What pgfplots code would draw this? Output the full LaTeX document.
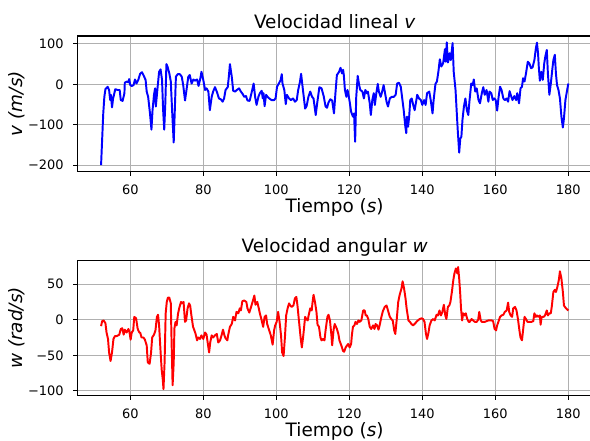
\documentclass[border=0pt]{standalone}
\usepackage{fontspec}
\setmainfont{DejaVu Sans}
\usepackage{pgfplots}
\pgfplotsset{compat=1.18}
\definecolor{gridgray}{HTML}{B0B0B0}
\pgfplotsset{mystyle/.style={
  scale only axis, width=514bp,
  xmin=45.6, xmax=186.4,
  xtick={60,80,100,120,140,160,180},
  xticklabels={60,80,100,120,140,160,180},
  tick align=outside, xtick pos=bottom, ytick pos=left,
  major tick length=4.5bp,
  every tick/.style={black, line width=1.04bp},
  grid=major, major grid style={gridgray, line width=1.04bp},
  axis line style={line width=1.04bp},
  tick label style={font=\fontsize{13}{15}\selectfont},
  label style={font=\fontsize{18.5}{22}\selectfont},
  xticklabel style={anchor=base, yshift=-18.7bp, inner sep=0pt},
  yticklabel style={anchor=east, xshift=-9.4bp, inner sep=0pt},
  every axis title shift=0pt,
  title style={font=\fontsize{18.5}{22}\selectfont, anchor=base},
  ylabel style={at={(axis description cs:-0.1187,0.5)}, anchor=center},
  xlabel={Tiempo (\textit{s})},
}}
\begin{document}
\begin{tikzpicture}
\path[use as bounding box] (0,0) rectangle (590bp,-441bp);
\begin{axis}[mystyle,
  at={(77.7bp,-171.3bp)}, anchor=south west, height=135.3bp,
  ymin=-215.3, ymax=119.6,
  ytick={-200,-100,0,100}, yticklabels={−200,−100,0,100},
  title={Velocidad lineal \textit{v}},
  title style={at={(axis description cs:0.5,1.0591)}},
  xlabel style={at={(axis description cs:0.5,-0.303)}, anchor=base},
  ylabel={\textit{v} \textit{(m/s)}},
]
\addplot[blue, line width=1.95bp, line join=round] coordinates {
(52.0,-200) (52.6,-72) (52.9,-31) (53.2,-12) (53.8,-6) (54.2,-14) (54.5,-39) (54.7,-26) (55.0,-57) (55.3,-35)
(55.9,-12) (56.5,-14) (57.1,-14) (57.4,-39) (57.9,-41) (58.4,-22) (58.5,4) (59.1,7) (59.5,5) (59.7,13)
(60.0,-2) (60.4,-4) (60.9,-2) (61.3,12) (61.7,2) (62.2,11) (62.7,26) (63.2,30) (63.7,21) (64.2,11)
(64.5,-18) (64.9,-31) (65.4,-72) (65.8,-112) (66.1,-64) (66.5,-26) (66.8,-10) (67.0,-55) (67.5,-6) (67.9,31)
(68.3,37) (68.7,11) (69.0,-64) (69.3,-112) (69.6,-47) (69.9,50) (70.2,44) (70.7,27) (71.1,7) (71.5,-72)
(71.9,-144) (72.2,-64) (72.5,19) (73.0,25) (73.6,25) (74.1,19) (74.5,-2) (75.0,-40) (75.4,-14) (75.9,19)
(76.3,23) (76.8,2) (77.3,12) (77.7,9) (78.3,12) (78.7,-4) (79.2,15) (79.5,31) (80.0,11) (80.5,-14)
(80.9,-10) (81.4,-18) (81.8,-64) (82.3,-31) (82.7,-18) (83.2,-7) (83.7,-18) (84.3,-35) (84.8,-37) (85.3,-43)
(85.7,-35) (86.1,-14) (86.7,-7) (87.0,19) (87.3,50) (87.8,19) (88.2,-16) (88.7,-18) (89.2,-14) (89.8,-10)
(90.3,-18) (90.8,-24) (91.2,-31) (91.7,-29) (92.1,-40) (92.7,-41) (93.2,-22) (93.8,2) (94.2,-31) (94.6,-51)
(95.1,-31) (95.5,-22) (96.0,-16) (96.3,-35) (96.5,-22) (96.8,-54) (97.2,-26) (97.6,-31) (98.1,-35) (98.7,-39)
(99.4,-39) (99.8,-35) (100.2,-6) (100.7,2) (101.2,11) (101.5,25) (101.7,2) (102.2,-14) (102.6,-49) (102.9,-26)
(103.5,-35) (104.0,-39) (104.6,-35) (105.1,-43) (105.6,-39) (106.0,-14) (106.5,7) (106.8,26) (107.2,-6) (107.9,-60)
(108.3,-54) (108.8,-31) (109.3,-18) (109.8,-31) (110.2,-35) (110.8,-76) (111.2,-47) (111.8,-7) (112.4,-10) (113.0,-30)
(113.5,-55) (113.9,-58) (114.3,-45) (114.8,-37) (115.3,-40) (115.8,-72) (116.2,-22) (116.6,23) (117.2,31) (117.6,41)
(118.0,27) (118.3,36) (118.5,23) (118.8,-14) (119.2,-31) (119.5,-14) (119.7,-22) (120.1,-43) (120.5,-68) (121.0,-80)
(121.3,-72) (121.6,-142) (121.9,-31) (122.3,21) (122.7,-2) (123.0,-14) (123.6,-18) (124.0,-35) (124.4,-14) (124.8,-22)
(125.1,-18) (125.6,-47) (125.9,-76) (126.3,-39) (126.7,-22) (127.0,-51) (127.4,-22) (127.8,1) (128.1,-18) (128.6,-31)
(129.0,-18) (129.4,-2) (129.8,-22) (130.2,-43) (130.6,-55) (131.1,-35) (131.6,-31) (132.2,-31) (132.7,-26) (133.1,2)
(133.6,4) (134.1,-6) (134.5,-35) (134.9,-64) (135.3,-101) (135.6,-121) (135.8,-80) (136.1,-105) (136.4,-80) (136.7,-39)
(137.1,-35) (137.5,-51) (137.9,-64) (138.3,-43) (138.6,-26) (139.1,-35) (139.6,-39) (140.0,-51) (140.5,-39) (140.9,-51)
(141.3,-22) (141.9,-18) (142.3,-39) (142.8,-72) (143.1,-39) (143.6,1) (144.0,7) (144.4,31) (144.8,62) (145.2,44)
(145.7,52) (146.2,87) (146.4,56) (146.7,104) (147.0,54) (147.3,64) (147.5,77) (147.8,60) (148.3,102) (148.6,31)
(149.1,-14) (149.4,-64) (149.7,-113) (150.1,-169) (150.4,-134) (150.7,-130) (151.0,-88) (151.4,-55) (151.8,-35) (152.2,-64)
(152.6,-76) (152.9,-43) (153.4,2) (153.8,-2) (154.1,12) (154.5,-18) (154.9,-10) (155.4,-39) (155.8,-47) (156.3,-22)
(156.7,-7) (157.1,-26) (157.6,-14) (158.1,-43) (158.4,-18) (158.9,-22) (159.3,-39) (159.7,-35) (160.1,-39) (160.5,-65)
(160.9,-31) (161.3,-6) (161.7,-14) (162.2,-35) (162.6,-39) (163.1,-35) (163.5,-43) (163.9,-17) (164.4,-31) (164.7,-39)
(165.2,-29) (165.7,-39) (166.0,-22) (166.5,-47) (166.9,-10) (167.3,-6) (167.6,15) (168.0,7) (168.4,27) (168.9,56)
(169.3,52) (169.8,40) (170.2,42) (170.7,60) (171.1,89) (171.4,103) (171.7,77) (171.9,44) (172.2,9) (172.6,31)
(173.0,11) (173.4,52) (173.7,69) (174.1,85) (174.4,27) (174.8,-26) (175.2,2) (175.6,36) (175.9,60) (176.3,73)
(176.6,27) (176.9,-2) (177.3,-14) (177.7,-35) (178.1,-80) (178.5,-107) (178.8,-84) (179.2,-39) (179.6,-18) (180.0,2)
};
\end{axis}
\begin{axis}[mystyle,
  at={(77.7bp,-395.3bp)}, anchor=south west, height=134.6bp,
  ymin=-106.2, ymax=82.9,
  ytick={-100,-50,0,50}, yticklabels={−100,−50,0,50},
  title={Velocidad angular \textit{w}},
  title style={at={(axis description cs:0.5,1.0594)}},
  xlabel style={at={(axis description cs:0.5,-0.3046)}, anchor=base},
  ylabel={\textit{w} \textit{(rad/s)}},
]
\addplot[red, line width=1.95bp, line join=round] coordinates {
(52.0,-9) (52.3,-2) (52.7,-1) (53.2,-5) (53.5,-18) (53.9,-27) (54.2,-46) (54.6,-58) (55.0,-46) (55.4,-27)
(55.8,-23) (56.3,-23) (57.0,-21) (57.4,-13) (57.8,-12) (58.2,-21) (58.5,-14) (59.0,-18) (59.5,-13) (59.8,-18)
(60.1,-28) (60.4,-18) (60.8,-15) (61.1,4) (61.6,2) (62.0,-12) (62.2,-15) (62.5,-18) (62.7,-18) (63.1,-25)
(63.6,-25) (64.0,-28) (64.5,-36) (64.8,-60) (65.3,-62) (65.7,-46) (66.0,-25) (66.5,-21) (66.9,-15) (67.3,4)
(67.6,7) (67.9,-8) (68.2,-36) (68.6,-70) (68.9,-84) (69.1,-97.6) (69.4,-60) (69.7,9) (70.0,25) (70.3,31)
(70.7,31) (71.1,23) (71.3,-27) (71.6,-92) (71.9,-60) (72.1,-12) (72.4,-3) (72.7,-8) (73.1,9) (73.5,18)
(73.9,25) (74.2,23) (74.6,25) (75.0,-3) (75.3,-1) (75.7,16) (76.1,23) (76.4,20) (76.8,4) (77.2,-10)
(77.5,-14) (77.9,-20) (78.3,-29) (78.6,-25) (79.1,-27) (79.5,-22) (80.0,-27) (80.5,-18) (80.9,-21) (81.2,-32)
(81.6,-46) (81.9,-32) (82.3,-22) (82.7,-25) (83.2,-22) (83.7,-20) (84.1,-32) (84.6,-29) (85.0,-22) (85.4,-14)
(85.8,-22) (86.1,-26) (86.6,-29) (86.8,-22) (87.3,-10) (87.8,-6) (88.2,4) (88.7,-1) (89.1,11) (89.6,9)
(90.0,16) (90.3,13) (90.7,26) (91.2,27) (91.8,25) (92.1,16) (92.6,10) (93.1,18) (93.5,25) (94.0,34)
(94.3,21) (94.8,25) (95.2,16) (95.5,9) (96.0,-1) (96.4,-10) (96.8,4) (97.2,6) (97.5,-6) (98.0,-14)
(98.5,-22) (99.0,-35) (99.4,-15) (99.7,-8) (100.1,-3) (100.5,11) (100.9,-3) (101.3,-22) (101.6,-46) (102.0,-51)
(102.4,-22) (102.7,6) (103.1,16) (103.5,23) (103.8,20) (104.2,18) (104.7,20) (105.1,30) (105.5,32) (105.8,20)
(106.2,-1) (106.7,-27) (107.0,-39) (107.4,-22) (107.9,4) (108.2,1) (108.6,-1) (108.9,7) (109.3,16) (109.7,13)
(109.9,23) (110.2,35) (110.6,25) (111.0,11) (111.3,-7) (111.7,-10) (112.1,-25) (112.4,-29) (112.8,-27) (113.2,-29)
(113.5,-15) (114.0,4) (114.3,7) (114.7,-1) (115.1,-22) (115.3,-36) (115.7,-14) (116.0,-6) (116.6,-13) (117.0,-20)
(117.3,-29) (117.8,-36) (118.3,-44) (118.6,-45) (119.0,-39) (119.4,-36) (119.7,-34) (120.1,-39) (120.5,-34) (120.7,-22)
(121.0,-10) (121.4,-8) (121.7,-3) (122.1,-6) (122.5,-1) (122.8,-3) (123.3,-1) (123.8,13) (124.2,13) (124.5,6)
(124.8,6) (125.2,1) (125.6,-10) (126.0,-13) (126.5,-8) (126.9,-13) (127.2,-6) (127.6,-8) (128.0,-14) (128.3,-8)
(128.8,4) (129.2,12) (129.7,18) (130.2,20) (130.6,13) (131.1,4) (131.5,1) (131.9,-1) (132.3,-15) (132.6,-20)
(133.0,1) (133.4,25) (133.8,35) (134.3,44) (134.6,54) (135.0,44) (135.4,30) (135.7,16) (136.2,-1) (136.6,-3)
(137.0,-6) (137.5,-8) (137.9,-6) (138.4,-3) (138.8,-1) (139.3,1) (139.8,2) (140.2,1) (140.6,-3) (141.0,-20)
(141.3,-27) (141.7,-18) (142.0,-8) (142.5,-1) (143.0,1) (143.4,-1) (143.9,7) (144.3,6) (144.7,13) (145.1,6)
(145.5,11) (145.9,21) (146.3,6) (146.6,1) (147.0,18) (147.4,20) (147.7,25) (148.1,39) (148.5,56) (148.8,65)
(149.2,72) (149.6,65) (149.8,74) (150.1,58) (150.4,35) (150.6,16) (150.9,-1) (151.2,9) (151.6,6) (151.9,9)
(152.3,1) (152.7,-3) (153.0,-3) (153.5,1) (153.9,-1) (154.4,-3) (154.9,-3) (155.3,0) (155.6,11) (156.0,-1)
(156.3,-3) (156.7,-3) (157.1,-3) (157.6,-2) (158.1,-1) (158.5,-1) (159.0,-1) (159.4,-2) (159.8,-13) (160.2,-15)
(160.5,-8) (160.9,-2) (161.3,4) (161.7,6) (162.2,7) (162.6,11) (163.1,13) (163.5,24) (163.8,11) (164.2,6)
(164.6,4) (164.9,16) (165.4,18) (165.8,13) (166.2,1) (166.6,-15) (166.9,-25) (167.3,-29) (167.7,-10) (168.0,4)
(168.4,1) (168.8,-3) (169.3,-3) (169.9,-3) (170.4,-2) (170.7,9) (171.1,4) (171.4,6) (171.8,4) (172.2,6)
(172.4,-7) (172.7,4) (173.2,4) (173.6,6) (174.1,13) (174.4,6) (174.8,9) (175.2,9) (175.5,20) (175.9,39)
(176.3,42) (176.6,39) (177.0,46) (177.4,56) (177.7,68) (178.1,58) (178.5,39) (178.8,20) (179.2,17) (179.6,15)
(180.0,13)
};
\end{axis}
\end{tikzpicture}
\end{document}
